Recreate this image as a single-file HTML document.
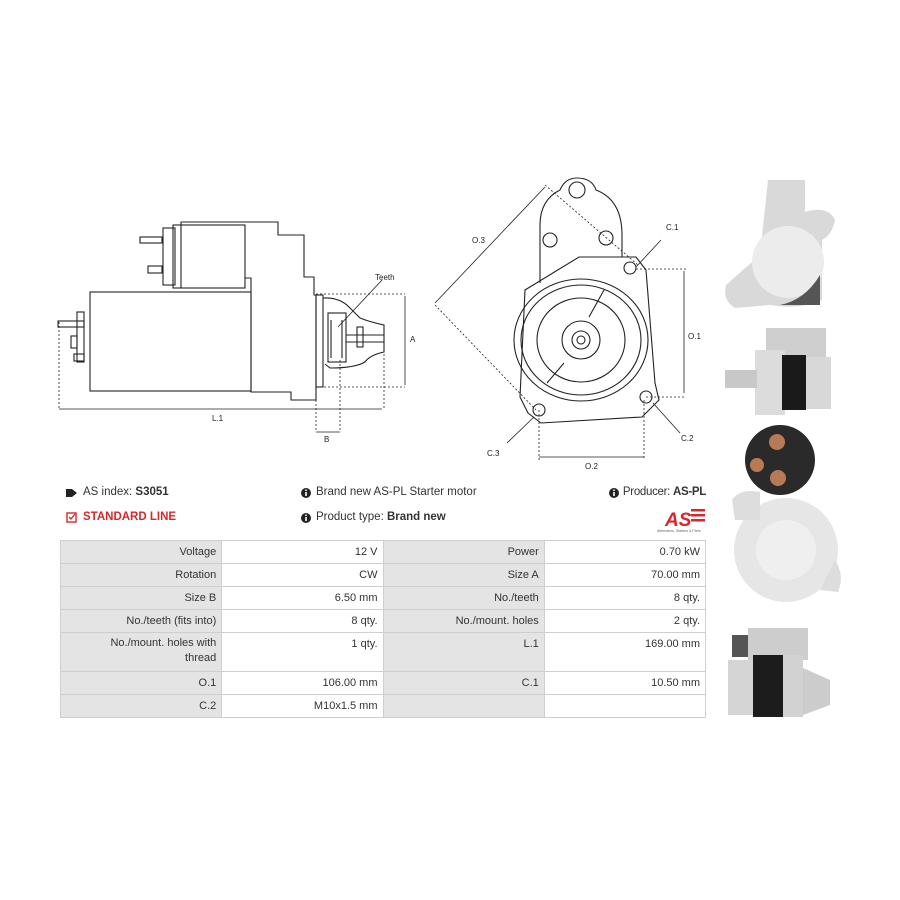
<!DOCTYPE html>
<html><head><meta charset="utf-8"><style>
body{margin:0;background:#fff;width:900px;height:900px;position:relative;overflow:hidden;font-family:"Liberation Sans",sans-serif;}
svg{position:absolute;left:0;top:0}
.t{position:absolute;font-size:11.5px;color:#333;white-space:nowrap}
table{position:absolute;left:60px;top:540px;width:646px;table-layout:fixed;border-collapse:collapse;font-size:11px;color:#333}
td{border:1px solid #cfcfcf;text-align:right;padding:0 5px;height:22px;vertical-align:middle;overflow:hidden}
td.l{background:#e4e4e4}
</style></head><body>
<svg width="900" height="900" viewBox="0 0 900 900" fill="none" stroke="#222" stroke-width="1.1" font-family="Liberation Sans,sans-serif">
<!-- side view -->
<rect x="90" y="292" width="161" height="99" />
<path d="M181,288 V222 H278 V235 H304 V277 H314 V295 H316 V400 H291 V392 H251 V278 H245"/>
<rect x="173" y="225" width="72" height="63"/>
<rect x="163" y="228" width="12" height="57"/>
<rect x="140" y="237" width="22" height="6"/><rect x="148" y="266" width="14" height="7"/>
<rect x="58" y="321" width="26" height="6"/><rect x="77" y="312" width="7" height="50"/><rect x="71" y="336" width="6" height="12"/><rect x="74" y="354" width="10" height="7"/>
<rect x="316" y="295" width="7" height="92"/>
<path d="M323,298 Q340,297 350,308 L360,318 Q370,322 384,325 V352 Q370,355 365,362 Q355,368 330,368 L325,364"/>
<rect x="328" y="313" width="18" height="49"/>
<path d="M346,335 H384 M346,342 H384 M331,320 V358 M342,320 V358"/><rect x="357" y="327" width="6" height="20"/>
<g stroke-dasharray="2,2" stroke-width="0.8">
<path d="M316,294 H405 M316,387 H405 M316,360 V432 M340,360 V432 M384,350 V409 M59,322 V409"/>
<path d="M545,185 L638,265 M435,305 L536,410 M636,269 H686 M646,397 H686 M539,410 V460 M644,400 V460"/>
</g>
<g stroke-width="0.8">
<path d="M405,296 V385 M59,409 H382 M316,432 H340 M382,280 L338,327 M435,303 L545,187 M684,271 V393 M539,457 H644 M661,240 L636,267 M680,433 L653,403 M507,443 L534,417"/>
</g>
<g fill="#222" stroke="none" font-size="8">
<text x="375" y="280">Teeth</text><text x="410" y="342">A</text><text x="212" y="421">L.1</text><text x="324" y="442">B</text>
<text x="472" y="243">O.3</text><text x="688" y="339">O.1</text><text x="585" y="469">O.2</text><text x="666" y="230">C.1</text><text x="681" y="441">C.2</text><text x="487" y="456">C.3</text>
</g>
<!-- front view -->
<path d="M540,283 V225 Q540,200 560,190 Q565,178 577,178 Q592,178 596,190 Q622,200 622,235 V257"/>
<circle cx="577" cy="190" r="8"/><circle cx="550" cy="240" r="7"/><circle cx="606" cy="238" r="7"/>
<path d="M579,257 H636 L646,270 L655,383 L659,400 L642,417 L541,423 L528,413 L520,397 L525,290 Z"/>
<ellipse cx="581" cy="340" rx="67" ry="61"/><ellipse cx="581" cy="340" rx="60" ry="55"/>
<ellipse cx="581" cy="340" rx="44" ry="42"/>
<circle cx="581" cy="340" r="19"/><circle cx="581" cy="340" r="9"/><circle cx="581" cy="340" r="4"/>
<path d="M604,290 L589,317 M564,363 L547,383"/>
<circle cx="630" cy="268" r="6"/><circle cx="646" cy="397" r="6"/><circle cx="539" cy="410" r="6"/>
<!-- photos -->
<g stroke="none">
<path d="M768,180 H805 V212 Q828,205 835,220 Q832,235 822,240 L822,300 Q800,310 770,305 L735,308 Q722,300 726,285 L760,255 Z" fill="#d9d9d9"/>
<ellipse cx="788" cy="262" rx="36" ry="36" fill="#ececec"/><path d="M780,305 Q805,300 820,275 L820,305 Z" fill="#555"/>
<rect x="766" y="328" width="60" height="30" fill="#cfcfcf"/>
<rect x="755" y="350" width="30" height="65" fill="#dcdcdc"/><rect x="782" y="355" width="24" height="55" fill="#1a1a1a"/><rect x="806" y="357" width="25" height="52" fill="#d8d8d8"/>
<rect x="725" y="370" width="32" height="18" fill="#c8c8c8"/>
<circle cx="780" cy="460" r="35" fill="#2a2a2a"/><circle cx="777" cy="442" r="8" fill="#b87a55"/><circle cx="757" cy="465" r="7" fill="#b87a55"/><circle cx="778" cy="478" r="8" fill="#b87a55"/>
<circle cx="786" cy="550" r="52" fill="#e6e6e6"/><path d="M732,500 Q740,488 760,492 V520 H735 Z" fill="#ddd"/><path d="M835,560 Q845,575 838,592 L820,590 Z" fill="#ddd"/>
<circle cx="786" cy="550" r="30" fill="#efefef"/>
<rect x="748" y="628" width="60" height="32" fill="#cdcdcd"/><rect x="732" y="635" width="16" height="22" fill="#555"/>
<rect x="728" y="660" width="25" height="55" fill="#d5d5d5"/><rect x="753" y="655" width="30" height="62" fill="#1c1c1c"/><rect x="783" y="655" width="20" height="62" fill="#d2d2d2"/><path d="M803,668 L830,680 V705 L803,715 Z" fill="#ccc"/>
</g>
<!-- icons -->
<g stroke="none">
<path d="M66,489 h6 l5,4 l-5,4 h-6 z" fill="#222"/>
<circle cx="306" cy="493" r="5" fill="#222"/><circle cx="306" cy="518" r="5" fill="#222"/><circle cx="614" cy="493" r="5" fill="#222"/>
<rect x="305.2" y="492" width="1.6" height="4" fill="#fff"/><rect x="305.2" y="489.5" width="1.6" height="1.5" fill="#fff"/>
<rect x="305.2" y="517" width="1.6" height="4" fill="#fff"/><rect x="305.2" y="514.5" width="1.6" height="1.5" fill="#fff"/>
<rect x="613.2" y="492" width="1.6" height="4" fill="#fff"/><rect x="613.2" y="489.5" width="1.6" height="1.5" fill="#fff"/>
<text x="665" y="526" fill="#d9262b" font-size="19" font-weight="bold" font-style="italic">AS</text>
<rect x="691" y="509" width="14" height="2.5" fill="#d9262b"/><rect x="691" y="514" width="14" height="2.5" fill="#d9262b"/><rect x="691" y="519" width="14" height="2.5" fill="#d9262b"/>
<text x="657" y="532" fill="#666" font-size="3.5">Alternators, Starters &amp; Parts</text>
</g>
<rect x="67" y="513" width="9" height="9" stroke="#d9262b" stroke-width="1.4"/>
<path d="M69,517 l2,2 l4,-5" stroke="#d9262b" stroke-width="1.4"/>
</svg>
<div class="t" style="left:83px;top:486px">AS index: <b>S3051</b></div>
<div class="t" style="left:83px;top:511px;color:#d9262b;font-weight:bold">STANDARD LINE</div>
<div class="t" style="left:316px;top:486px">Brand new AS-PL Starter motor</div>
<div class="t" style="left:316px;top:511px">Product type: <b>Brand new</b></div>
<div class="t" style="right:194px;top:486px;letter-spacing:-0.3px">Producer: <b>AS-PL</b></div>
<table>
<tr><td class="l">Voltage</td><td class="v">12 V</td><td class="l">Power</td><td class="v">0.70 kW</td></tr>
<tr><td class="l">Rotation</td><td class="v">CW</td><td class="l">Size A</td><td class="v">70.00 mm</td></tr>
<tr><td class="l">Size B</td><td class="v">6.50 mm</td><td class="l">No./teeth</td><td class="v">8 qty.</td></tr>
<tr><td class="l">No./teeth (fits into)</td><td class="v">8 qty.</td><td class="l">No./mount. holes</td><td class="v">2 qty.</td></tr>
<tr><td class="l" style="height:35px;vertical-align:top;padding-top:3px;line-height:15px">No./mount. holes with<br>thread</td><td class="v" style="vertical-align:top;padding-top:5px">1 qty.</td><td class="l" style="vertical-align:top;padding-top:5px">L.1</td><td class="v" style="vertical-align:top;padding-top:5px">169.00 mm</td></tr>
<tr><td class="l">O.1</td><td class="v">106.00 mm</td><td class="l">C.1</td><td class="v">10.50 mm</td></tr>
<tr><td class="l">C.2</td><td class="v">M10x1.5 mm</td><td class="l"></td><td class="v"></td></tr>
</table>
</body></html>
